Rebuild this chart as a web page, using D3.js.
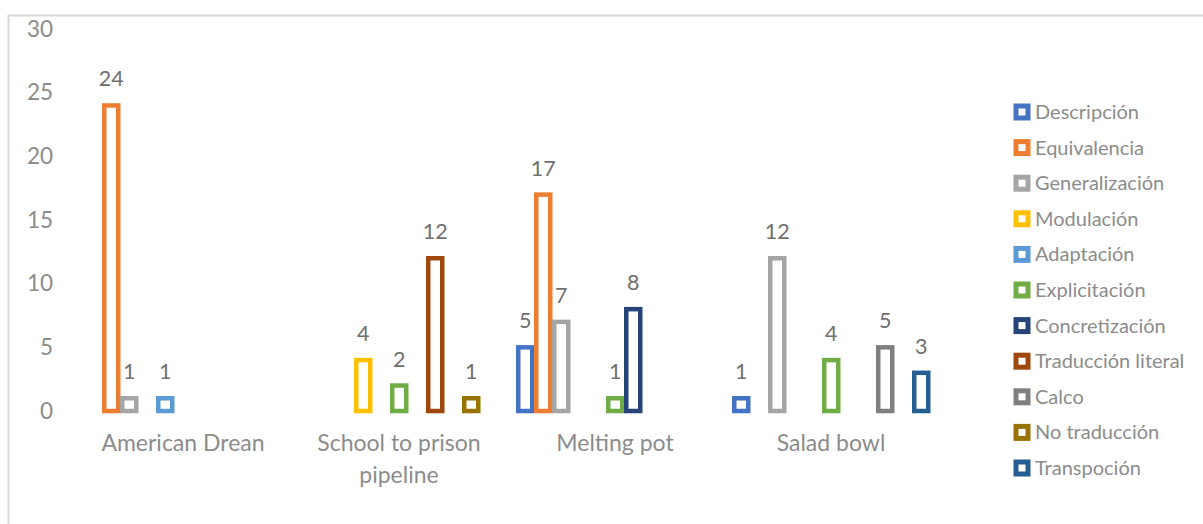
<!DOCTYPE html>
<html>
<head>
<meta charset="utf-8">
<script src="https://cdn.jsdelivr.net/npm/d3@7"></script>
<style>
  html, body { margin: 0; padding: 0; background: #fff; }
  svg { display: block; font-family: "Lato", "Open Sans", sans-serif; }
</style>
</head>
<body>
<svg id="chart" width="1203" height="524"></svg>
<script>
// Categories along the x axis
const categories = ["American Drean", "School to prison pipeline", "Melting pot", "Salad bowl"];

// Translation techniques (series), in legend order
const seriesNames = [
  "Descripción", "Equivalencia", "Generalización", "Modulación", "Adaptación",
  "Explicitación", "Concretización", "Traducción literal", "Calco", "No traducción", "Transpoción"
];

const seriesColors = [
  "#4472C4", "#ED7D31", "#A5A5A5", "#FFC000", "#5B9BD5",
  "#70AD47", "#264478", "#9E480E", "#7F7F7F", "#997300", "#255E91"
];

// Counts per series, one value per category (null = no occurrence)
const descripcion      = [null, null, 5, 1];
const equivalencia     = [24, null, 17, null];
const generalizacion   = [1, null, 7, 12];
const modulacion       = [null, 4, null, null];
const adaptacion       = [1, null, null, null];
const explicitacion    = [null, 2, 1, 4];
const concretizacion   = [null, null, 8, null];
const traduccionLiteral= [null, 12, null, null];
const calco            = [null, null, null, 5];
const noTraduccion     = [null, 1, null, null];
const transpocion      = [null, null, null, 3];

const yTicks = [0, 5, 10, 15, 20, 25, 30];

const seriesValues = [
  descripcion, equivalencia, generalizacion, modulacion, adaptacion,
  explicitacion, concretizacion, traduccionLiteral, calco, noTraduccion, transpocion
];

const svg = d3.select("#chart");

// Outer chart frame
svg.append("rect")
  .attr("x", 8.5).attr("y", 15.5)
  .attr("width", 1300).attr("height", 600)
  .attr("fill", "none").attr("stroke", "#d9d9d9").attr("stroke-width", 2);

const x0 = d3.scaleBand().domain(categories).range([75, 939]).paddingInner(0).paddingOuter(0);
const x1 = d3.scaleBand().domain(d3.range(seriesNames.length))
  .range([9, x0.bandwidth() - 9]).padding(0);
const y = d3.scaleLinear().domain([0, 30]).range([411, 29.1]);

// Y axis labels only (no line, no ticks)
const yAxis = svg.append("g")
  .attr("transform", "translate(53,0)")
  .call(d3.axisLeft(y).tickValues(yTicks).tickSize(0).tickPadding(0));
yAxis.select(".domain").remove();
yAxis.selectAll("text")
  .attr("fill", "#8c8c8c")
  .style("font-size", "22.5px")
  .style("font-family", "Lato, 'Open Sans', sans-serif");

// Category labels (wrapped)
const xAxis = svg.append("g");
categories.forEach(c => {
  const words = c === "School to prison pipeline" ? ["School to prison", "pipeline"] : [c];
  const cx = x0(c) + x0.bandwidth() / 2;
  const t = xAxis.append("text")
    .attr("x", cx)
    .attr("y", 451)
    .attr("text-anchor", "middle")
    .attr("fill", "#8c8c8c")
    .style("font-size", "23px");
  words.forEach((w, i) => {
    t.append("tspan").attr("x", cx).attr("dy", i === 0 ? 0 : 32).text(w);
  });
});

// Bars: hollow outlines
const bw = x1.bandwidth();
const sw = 4.5;
const barData = [];
seriesValues.forEach((vals, s) => {
  vals.forEach((v, c) => {
    if (v !== null) barData.push({ s, c: categories[c], v });
  });
});

svg.append("g").selectAll("rect")
  .data(barData)
  .join("rect")
  .attr("x", d => x0(d.c) + x1(d.s) + sw / 2)
  .attr("y", d => y(d.v))
  .attr("width", bw - sw + 0.5)
  .attr("height", d => y(0) - y(d.v))
  .attr("fill", "#fff")
  .attr("stroke", d => seriesColors[d.s])
  .attr("stroke-width", sw);

// Data labels
svg.append("g").selectAll("text")
  .data(barData)
  .join("text")
  .attr("x", d => x0(d.c) + x1(d.s) + bw / 2 + 0.25)
  .attr("y", d => y(d.v) - 19)
  .attr("text-anchor", "middle")
  .attr("fill", "#707070")
  .style("font-size", "21.5px")
  .text(d => d.v);

// Legend
const legend = svg.append("g");
seriesNames.forEach((name, i) => {
  const cy = 112 + i * 35.6;
  legend.append("rect")
    .attr("x", 1016).attr("y", cy - 6)
    .attr("width", 12).attr("height", 12)
    .attr("fill", "#fff")
    .attr("stroke", seriesColors[i])
    .attr("stroke-width", 5);
  legend.append("text")
    .attr("x", 1035).attr("y", cy)
    .attr("dy", "0.35em")
    .attr("fill", "#8c8c8c")
    .style("font-size", "20px")
    .text(name);
});
</script>
</body>
</html>
